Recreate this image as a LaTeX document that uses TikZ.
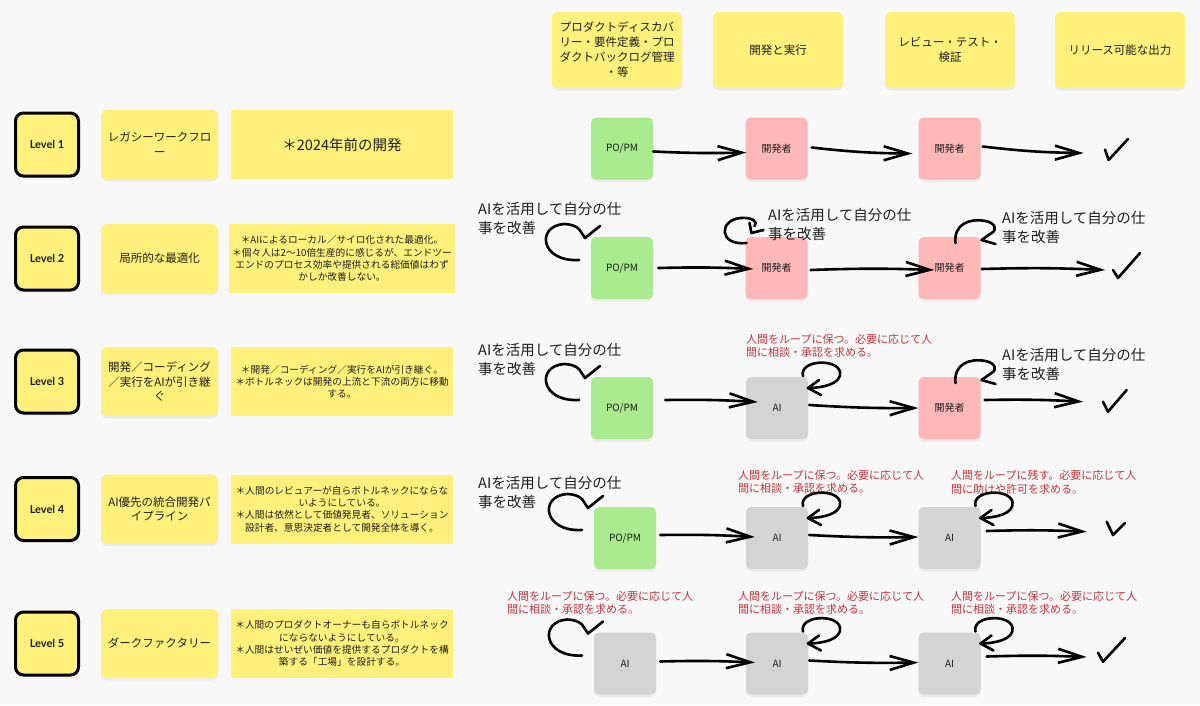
\documentclass[tikz,border=0pt]{standalone}
\usepackage{fontspec}
\setmainfont{Noto Sans CJK JP}
\newfontfamily\latofont{Lato}
\usetikzlibrary{arrows.meta,calc,shadows}

\definecolor{bg}{HTML}{F8F8F8}
\definecolor{sticky}{HTML}{FFF17C}
\definecolor{greenn}{HTML}{A9EB8E}
\definecolor{pinkn}{HTML}{FFB8B8}
\definecolor{grayn}{HTML}{D4D4D4}
\definecolor{redt}{HTML}{C8343C}
\definecolor{ink}{HTML}{1E1E1E}

\tikzset{
  shadowed/.style={drop shadow={shadow xshift=0pt,shadow yshift=-2.5pt,opacity=0.10}},
  levelbox/.style={draw=black, line width=3pt, fill=sticky, rounded corners=8pt,
    minimum width=63pt, minimum height=63pt, shadowed,
    font=\latofont\bfseries\fontsize{11}{13}\selectfont, text=ink},
  namebox/.style={fill=sticky, rounded corners=6pt, minimum width=117pt, minimum height=69pt,
    align=center, font=\fontsize{11.5}{14.5}\selectfont, shadowed, text=ink},
  descbox/.style={fill=sticky, minimum width=222pt, minimum height=69pt, align=center,
    font=\fontsize{9.7}{12.3}\selectfont, text=ink},
  headbox/.style={fill=sticky, rounded corners=6pt, minimum width=130pt, minimum height=76pt,
    align=center, font=\fontsize{11.5}{15}\selectfont, shadowed, text=ink},
  proc/.style={rounded corners=5pt, minimum width=62pt, minimum height=62pt,
    font=\fontsize{10}{12}\selectfont, shadowed, text=ink},
  po/.style={proc, fill=greenn},
  dev/.style={proc, fill=pinkn},
  ai/.style={proc, fill=grayn},
  note/.style={anchor=north west, inner sep=0pt, align=left,
    font=\fontsize{14.5}{19}\selectfont, text=ink},
  rnote/.style={anchor=north west, inner sep=0pt, align=left,
    font=\fontsize{11}{13.5}\selectfont, text=redt},
  hand/.style={line width=2.6pt, line cap=round, line join=round, draw=black},
  harrow/.style={hand, -{Straight Barb[length=24pt,width=14pt]}},
  loopA/.pic={
    \draw[hand] (-43,-8) .. controls (-82,-6) and (-86,-42) .. (-58,-44)
      .. controls (-52,-44) and (-46,-42) .. (-43,-39) -- (-37,-30) -- (-22,-42);
  },
  loopB/.pic={
    \draw[hand] (26,-32) .. controls (22,-48) and (60,-50) .. (63,-36)
      .. controls (65,-24) and (45,-20) .. (31,-20);
    \draw[hand] (42,-28) -- (31,-20) -- (44,-13);
  },
  loopC/.pic={
    \draw[hand] (6,-25) .. controls (4,-44) and (20,-50) .. (36,-47)
      .. controls (46,-45) and (48,-38) .. (42,-35) -- (32,-28) -- (46,-24);
  },
  loopD/.pic={
    \draw[hand] (-30,-25) .. controls (-58,-22) and (-58,-48) .. (-36,-50)
      .. controls (-24,-51) and (-18,-46) .. (-22,-42);
    \draw[hand] (-27,-45) -- (-25,-35) -- (-13,-38);
  },
}

\begin{document}
\begin{tikzpicture}[x=1pt,y=-1pt]
\fill[bg] (0,0) rectangle (1200,705);
\useasboundingbox (0,0) rectangle (1200,705);

% headers
\node[headbox] (h1) at (617,50) {プロダクトディスカバ\\リー・要件定義・プロ\\ダクトバックログ管理\\・等};
\node[headbox] (h2) at (778,50) {開発と実行};
\node[headbox] (h3) at (950,50) {レビュー・テスト・\\検証};
\node[headbox] (h4) at (1120,50) {リリース可能な出力};

% level boxes
\node[levelbox] (lv1) at (47,144.5) {Level 1};
\node[levelbox] (lv2) at (47,258.5) {Level 2};
\node[levelbox] (lv3) at (47,381.5) {Level 3};
\node[levelbox] (lv4) at (47,509) {Level 4};
\node[levelbox] (lv5) at (47,643.5) {Level 5};

% names
\node[namebox] (nm1) at (159.5,144.5) {レガシーワークフロ\\ー};
\node[namebox] (nm2) at (159.5,258.5) {局所的な最適化};
\node[namebox] (nm3) at (159.5,381.5) {開発／コーディング\\／実行をAIが引き継\\ぐ};
\node[namebox] (nm4) at (159.5,509) {AI優先の統合開発パ\\イプライン};
\node[namebox] (nm5) at (159.5,643.5) {ダークファクタリー};

% descriptions
\node[descbox, font=\fontsize{14.5}{17}\selectfont] (ds1) at (342,144.5) {＊2024年前の開発};
\node[descbox] (ds2) at (342,258.5) {＊AIによるローカル／サイロ化された最適化。\\＊個々人は2〜10倍生産的に感じるが、エンドツー\\エンドのプロセス効率や提供される総価値はわず\\かしか改善しない。};
\node[descbox] (ds3) at (342,381.5) {＊開発／コーディング／実行をAIが引き継ぐ。\\＊ボトルネックは開発の上流と下流の両方に移動\\する。};
\node[descbox] (ds4) at (342,509) {＊人間のレビュアーが自らボトルネックにならな\\いようにしている。\\＊人間は依然として価値発見者、ソリューション\\設計者、意思決定者として開発全体を導く。};
\node[descbox] (ds5) at (342,643.5) {＊人間のプロダクトオーナーも自らボトルネック\\にならないようにしている。\\＊人間はせいぜい価値を提供するプロダクトを構\\築する「工場」を設計する。};

% process nodes
\node[po]  (a1) at (622,148.5) {PO/PM};
\node[dev] (b1) at (776.5,148.5) {開発者};
\node[dev] (c1) at (949.5,148.5) {開発者};
\node[po]  (a2) at (622,268) {PO/PM};
\node[dev] (b2) at (776.5,268) {開発者};
\node[dev] (c2) at (949.5,268) {開発者};
\node[po]  (a3) at (622,408) {PO/PM};
\node[ai]  (b3) at (777,408) {AI};
\node[dev] (c3) at (949.5,408) {開発者};
\node[po]  (a4) at (625,538) {PO/PM};
\node[ai]  (b4) at (777,538) {AI};
\node[ai]  (c4) at (949.5,538) {AI};
\node[ai]  (a5) at (625,663.5) {AI};
\node[ai]  (b5) at (777,663.5) {AI};
\node[ai]  (c5) at (949.5,663.5) {AI};

% labels
\node[note] (n2a) at (478,202) {AIを活用して自分の仕\\事を改善};
\node[note] (n2b) at (768,208) {AIを活用して自分の仕\\事を改善};
\node[note] (n2c) at (1002,211) {AIを活用して自分の仕\\事を改善};
\node[note] (n3a) at (478,343) {AIを活用して自分の仕\\事を改善};
\node[note] (n3c) at (1002,348) {AIを活用して自分の仕\\事を改善};
\node[note] (n4a) at (478,476) {AIを活用して自分の仕\\事を改善};
\node[rnote] (r3b) at (746,334) {人間をループに保つ。必要に応じて人\\間に相談・承認を求める。};
\node[rnote] (r4b) at (738,470) {人間をループに保つ。必要に応じて人\\間に相談・承認を求める。};
\node[rnote] (r4c) at (951,470) {人間をループに残す。必要に応じて人\\間に助けや許可を求める。};
\node[rnote] (r5a) at (507,591) {人間をループに保つ。必要に応じて人\\間に相談・承認を求める。};
\node[rnote] (r5b) at (738,591) {人間をループに保つ。必要に応じて人\\間に相談・承認を求める。};
\node[rnote] (r5c) at (951,591) {人間をループに保つ。必要に応じて人\\間に相談・承認を求める。};

% self loops
\pic at (a2) {loopA};
\pic at (b2) {loopD};
\pic at (c2) {loopC};
\pic at (a3) {loopA};
\pic at (b3) {loopB};
\pic at (c3) {loopC};
\pic at (a4) {loopA};
\pic at (b4) {loopB};
\pic at (c4) {loopB};
\pic at (a5) {loopA};
\pic at (b5) {loopB};
\pic at (c5) {loopB};

% check coordinates
\coordinate (k1) at (1083.6,153);
\coordinate (k2) at (1105,270);
\coordinate (k3) at (1083,401.7);
\coordinate (k4) at (1086.7,531.7);
\coordinate (k5) at (1086.7,657);

% connectors
\draw[harrow] ($(a1.east)+(0,3)$) to[bend right=2] ($(b1.west)+(1,4)$);
\draw[harrow] ($(b1.east)+(4,-1)$) to[bend right=3] ($(c1.west)+(-6,5)$);
\draw[harrow] ($(c1.east)+(2,-2)$) to[bend right=3] (k1);
\draw[harrow] ($(a2.east)+(5,0)$) to[bend left=2] ($(b2.west)+(8,1)$);
\draw[harrow] ($(b2.east)+(3,2)$) to[bend left=2] ($(c2.west)+(16,2)$);
\draw[harrow] ($(c2.east)+(1,1)$) to[bend left=2] (k2);
\draw[harrow] ($(a3.east)+(12,-8)$) to[bend left=2] ($(b3.west)+(12,-6)$);
\draw[harrow] ($(b3.east)+(1,-3)$) to[bend right=2] (c3.west);
\draw[harrow] ($(c3.east)+(4,-8)$) to[bend left=2] (k3);
\draw[harrow] ($(a4.east)+(4,-3)$) to[bend left=2] ($(b4.west)+(9,-1)$);
\draw[harrow] ($(b4.east)+(1,-3)$) to[bend right=2] ($(c4.west)+(0,-1)$);
\draw[harrow] ($(c4.east)+(6,-7)$) to[bend left=2] (k4);
\draw[harrow] ($(a5.east)+(4,-2)$) to[bend left=2] ($(b5.west)+(9,-1)$);
\draw[harrow] ($(b5.east)+(1,-3)$) to[bend right=2] ($(c5.west)+(0,-1)$);
\draw[harrow] ($(c5.east)+(6,-7)$) to[bend left=2] (k5);

% check marks
\draw[hand] (1105,149.6) -- (1108.6,160) -- (1128,139);
\draw[hand] (1113,270) -- (1118,278) -- (1140,253);
\draw[hand] (1103,401.7) -- (1108,411.7) -- (1126.7,390);
\draw[hand] (1106.7,521.7) -- (1113,535) -- (1125,523);
\draw[hand] (1098,652.7) -- (1103,661.7) -- (1125,638);
\end{tikzpicture}
\end{document}
